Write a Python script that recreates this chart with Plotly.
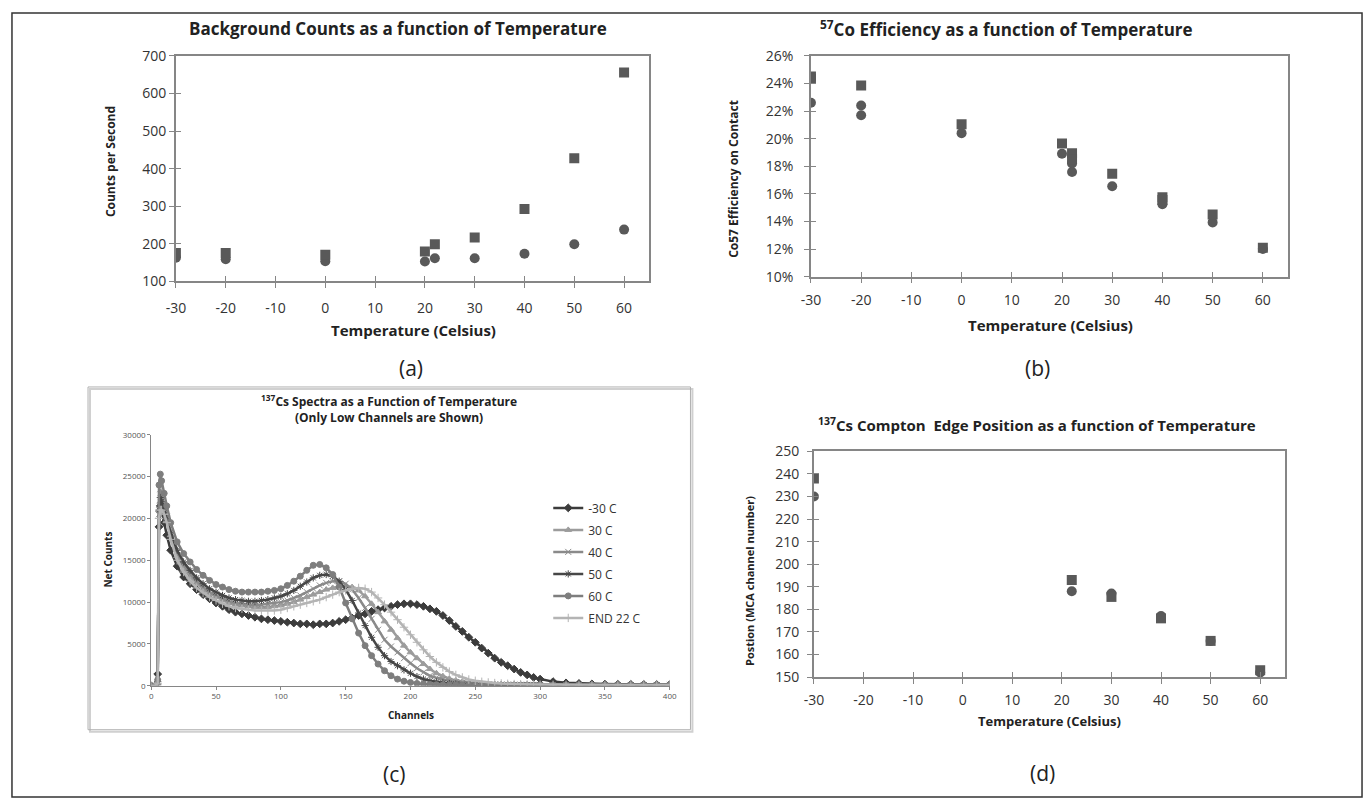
import plotly.graph_objects as go

W, H = 1371, 811
def px(x):
    return x / W
def py(y):
    return 1 - y / H

FONT = "Open Sans"
MK = "#595959"

# ---------------- Panel (a): Background counts ----------------
temp_a_sq = [-30, -20, 0, 20, 22, 30, 40, 50, 60]
cps_sq = [176, 176, 171, 180, 199, 217, 293, 428, 656]
temp_a_ci = [-30, -20, 0, 20, 22, 30, 40, 50, 60]
cps_ci = [163, 159, 154, 153, 162, 162, 174, 199, 238]

# ---------------- Panel (b): Co57 efficiency ----------------
temp_b_sq = [-30, -30, -20, 0, 20, 22, 22, 30, 40, 40, 50, 60]
eff_sq = [0.2450, 0.2435, 0.2385, 0.2105, 0.1965, 0.1895, 0.1850, 0.1745, 0.1575, 0.1555, 0.1450, 0.1210]
temp_b_ci = [-30, -20, -20, 0, 20, 22, 22, 30, 40, 50, 60]
eff_ci = [0.2260, 0.2240, 0.2170, 0.2040, 0.1890, 0.1820, 0.1758, 0.1655, 0.1525, 0.1393, 0.1200]

# ---------------- Panel (c): Cs137 spectra ----------------
channels = [0, 3, 5, 6, 7, 8, 10, 12, 15,
            20, 25, 30, 35, 40, 45, 50, 55, 60, 65, 70, 75, 80, 85, 90, 95, 100,
            105, 110, 115, 120, 125, 130, 135, 140, 145, 150, 155, 160, 165, 170, 175,
            180, 185, 190, 195, 200, 205, 210, 215, 220, 225, 230, 235, 240, 245, 250,
            255, 260, 265, 270, 275, 280, 285, 290, 295, 300,
            310, 320, 330, 340, 350, 360, 370, 380, 390, 400]

counts_m30 = [0, 0, 1400, 19000, 21500, 21000, 19500, 18000, 16200,
              14300, 13000, 12200, 11500, 10900, 10400, 9900, 9500, 9100, 8800, 8600, 8400, 8200, 8000, 7900, 7800, 7700,
              7600, 7500, 7400, 7400, 7300, 7400, 7400, 7500, 7700, 7900, 8100, 8400, 8600, 8900, 9100,
              9300, 9500, 9700, 9800, 9800, 9700, 9500, 9200, 8900, 8400, 7800, 7100, 6500, 5800, 5200,
              4500, 3900, 3300, 2800, 2400, 2000, 1600, 1300, 1000, 800,
              500, 350, 280, 230, 200, 180, 170, 160, 150, 150]
counts_30 = [0, 0, 300, 21000, 22000, 21800, 21000, 19800, 18000,
             15500, 14000, 13000, 12200, 11500, 11000, 10600, 10200, 9900, 9700, 9600, 9500, 9400, 9400, 9400, 9500, 9600,
             9800, 10000, 10300, 10600, 10900, 11200, 11500, 11700, 11900, 11900, 11800, 11400, 10700, 9800, 8800,
             7700, 6700, 5700, 4800, 4000, 3300, 2600, 2000, 1500, 1150, 850, 650, 500, 400, 320,
             260, 220, 190, 170, 150, 140, 130, 120, 110, 100,
             100, 90, 90, 80, 80, 80, 80, 80, 80, 80]
counts_40 = [0, 0, 400, 20500, 23500, 23000, 21500, 20200, 18500,
             16000, 14500, 13400, 12500, 11800, 11200, 10800, 10400, 10100, 9900, 9800, 9700, 9700, 9700, 9800, 9900, 10000,
             10200, 10500, 10800, 11200, 11600, 12000, 12300, 12500, 12500, 12200, 11500, 10500, 9300, 8000, 6700,
             5500, 4700, 4000, 3300, 2700, 2100, 1600, 1200, 950, 750, 580, 450, 360, 300, 250,
             220, 190, 170, 150, 140, 130, 120, 110, 100, 100,
             90, 90, 80, 80, 80, 80, 80, 80, 80, 80]
counts_50 = [0, 0, 500, 21000, 22500, 22000, 21000, 20000, 18300,
             16200, 14800, 13800, 12900, 12200, 11600, 11200, 10800, 10500, 10300, 10200, 10100, 10100, 10200, 10300, 10500, 10700,
             11000, 11400, 11900, 12400, 12900, 13200, 13300, 13100, 12500, 11500, 10200, 8700, 7200, 5800, 4600,
             3600, 2900, 2400, 1900, 1500, 1100, 800, 600, 450, 350, 280, 230, 200, 170, 150,
             140, 130, 120, 110, 100, 100, 90, 90, 90, 80,
             80, 80, 80, 80, 80, 80, 80, 80, 80, 80]
counts_60 = [0, 0, 700, 24000, 25300, 24500, 23000, 21500, 19500,
             17200, 15800, 14800, 13900, 13200, 12600, 12100, 11800, 11500, 11300, 11200, 11200, 11200, 11200, 11300, 11400, 11600,
             12000, 12500, 13100, 13800, 14400, 14500, 14100, 13300, 11800, 9900, 8000, 6300, 4800, 3600, 2600,
             1800, 1200, 800, 550, 400, 280, 200, 150, 120, 100, 90, 80, 80, 80, 80,
             80, 80, 80, 80, 80, 80, 80, 80, 80, 80,
             80, 80, 80, 80, 80, 80, 80, 80, 80, 80]
counts_end22 = [0, 0, 300, 20000, 21000, 21000, 20500, 19500, 17500,
                15000, 13600, 12500, 11700, 11100, 10600, 10200, 9800, 9500, 9300, 9200, 9100, 9000, 9000, 9000, 9000, 9100,
                9300, 9500, 9700, 9900, 10100, 10300, 10600, 10900, 11200, 11400, 11600, 11700, 11600, 11200, 10500,
                9700, 8800, 7900, 7000, 6100, 5200, 4300, 3500, 2800, 2200, 1700, 1300, 1000, 750, 600,
                480, 400, 330, 280, 240, 210, 190, 170, 150, 140,
                120, 110, 100, 100, 90, 90, 90, 90, 90, 90]

spectra = [
    ("-30 C", counts_m30, "#3c3c3c", "diamond"),
    ("30 C", counts_30, "#9c9c9c", "triangle-up"),
    ("40 C", counts_40, "#8a8a8a", "x-thin-open"),
    ("50 C", counts_50, "#474747", "asterisk-open"),
    ("60 C", counts_60, "#7e7e7e", "circle"),
    ("END 22 C", counts_end22, "#b4b4b4", "cross-thin-open"),
]

# ---------------- Panel (d): Compton edge position ----------------
temp_d_sq = [-30, 22, 30, 40, 50, 60]
pos_sq = [238, 193, 185.5, 176, 166, 153]
temp_d_ci = [-30, 22, 30, 40, 50, 60]
pos_ci = [230, 188, 187, 177, 166, 152]

temp_ticks = [-30, -20, -10, 0, 10, 20, 30, 40, 50, 60]
temp_labels = [str(t) for t in temp_ticks]
cps_ticks = [100, 200, 300, 400, 500, 600, 700]
eff_ticks = [0.10, 0.12, 0.14, 0.16, 0.18, 0.20, 0.22, 0.24, 0.26]
pos_ticks = [150, 160, 170, 180, 190, 200, 210, 220, 230, 240, 250]
chan_ticks = [0, 50, 100, 150, 200, 250, 300, 350, 400]
net_ticks = [0, 5000, 10000, 15000, 20000, 25000, 30000]

fig = go.Figure()

def sq_ci(xs, ys, xc, yc, xa, ya):
    fig.add_trace(go.Scatter(x=xc, y=yc, mode="markers", xaxis=xa, yaxis=ya, showlegend=False,
                             marker=dict(symbol="circle", size=10, color=MK)))
    fig.add_trace(go.Scatter(x=xs, y=ys, mode="markers", xaxis=xa, yaxis=ya, showlegend=False,
                             marker=dict(symbol="square", size=10, color=MK)))

sq_ci(temp_a_sq, cps_sq, temp_a_ci, cps_ci, "x", "y")
sq_ci(temp_b_sq, eff_sq, temp_b_ci, eff_ci, "x2", "y2")
sq_ci(temp_d_sq, pos_sq, temp_d_ci, pos_ci, "x4", "y4")

for i, (name, vals, col, sym) in enumerate(spectra):
    fig.add_trace(go.Scatter(x=channels, y=vals, mode="lines+markers", name=name,
                             xaxis="x3", yaxis="y3", legendgroup=name,
                             line=dict(color=col, width=2.5),
                             marker=dict(symbol=sym, size=6, color=col,
                                         line=dict(color=col, width=1))))

# empty helper traces so the overlay tick axes (cross ticks) get drawn
for xa, ya in [("x5", "y"), ("x", "y5"), ("x6", "y2"), ("x2", "y6"), ("x7", "y4"), ("x4", "y7")]:
    fig.add_trace(go.Scatter(x=[], y=[], xaxis=xa, yaxis=ya, showlegend=False, hoverinfo="skip"))

AX = "#868686"
frame = dict(showline=True, linecolor=AX, linewidth=1.5, mirror=True, showgrid=False,
             zeroline=False, ticks="outside", ticklen=5, tickcolor=AX, tickwidth=1,
             tickfont=dict(family=FONT, size=14, color="#333333"))
inner = dict(showline=False, showgrid=False, zeroline=False, ticks="inside", ticklen=5,
             tickcolor=AX, tickwidth=1, showticklabels=False)

fig.update_layout(
    width=W, height=H, margin=dict(l=0, r=0, t=0, b=0),
    paper_bgcolor="white", plot_bgcolor="white",
    xaxis=dict(frame, domain=[px(168), px(647)], range=[-30, 65], tickvals=temp_ticks,
               ticktext=temp_labels, anchor="y", ticklabelstandoff=8),
    yaxis=dict(frame, domain=[py(278), py(47)], range=[100, 700], tickvals=cps_ticks, anchor="x"),
    xaxis5=dict(inner, overlaying="x", anchor="y", side="bottom", range=[-30, 65], tickvals=temp_ticks),
    yaxis5=dict(inner, overlaying="y", anchor="x", side="left", range=[100, 700], tickvals=cps_ticks),

    xaxis2=dict(frame, domain=[px(811), px(1294)], range=[-30, 65], tickvals=temp_ticks,
                ticktext=temp_labels, anchor="y2", ticklabelstandoff=5),
    yaxis2=dict(frame, domain=[py(273), py(47)], range=[0.10, 0.26], tickvals=eff_ticks,
                tickformat=".0%", anchor="x2", ticklabelstandoff=8),
    xaxis6=dict(inner, overlaying="x2", anchor="y2", side="bottom", range=[-30, 65], tickvals=temp_ticks),
    yaxis6=dict(inner, overlaying="y2", anchor="x2", side="left", range=[0.10, 0.26], tickvals=eff_ticks),

    xaxis4=dict(frame, domain=[px(814), px(1291)], range=[-30, 65], tickvals=temp_ticks,
                ticktext=temp_labels, anchor="y4", ticklabelstandoff=4),
    yaxis4=dict(frame, domain=[py(683), py(452)], range=[150, 250], tickvals=pos_ticks, anchor="x4",
                ticklabelstandoff=5),
    xaxis7=dict(inner, overlaying="x4", anchor="y4", side="bottom", range=[-30, 65], tickvals=temp_ticks),
    yaxis7=dict(inner, overlaying="y4", anchor="x4", side="left", range=[150, 250], tickvals=pos_ticks),

    xaxis3=dict(domain=[px(143), px(668)], range=[0, 400], tickvals=chan_ticks, anchor="y3",
                showline=True, linecolor=AX, linewidth=1, showgrid=False, zeroline=False,
                ticks="outside", ticklen=3, tickcolor=AX,
                tickfont=dict(family=FONT, size=8, color="#555555")),
    yaxis3=dict(domain=[py(692), py(435)], range=[0, 30000], tickvals=net_ticks, tickformat="d",
                anchor="x3", showline=True, linecolor=AX, linewidth=1, showgrid=False, zeroline=False,
                ticks="outside", ticklen=3, tickcolor=AX,
                tickfont=dict(family=FONT, size=8, color="#555555")),
    legend=dict(x=px(545), y=py(495), xanchor="left", yanchor="top",
                font=dict(family=FONT, size=12, color="#333333"),
                bgcolor="rgba(0,0,0,0)", tracegroupgap=3, itemwidth=30),
    showlegend=True,
)

shapes = [
    dict(type="rect", xref="paper", yref="paper", x0=px(2), x1=px(1369), y0=py(806), y1=py(3),
         line=dict(color="#333333", width=1.5)),
    dict(type="rect", xref="paper", yref="paper", x0=px(81), x1=px(691), y0=py(739), y1=py(388),
         line=dict(color="#d0d0d0", width=2)),
    dict(type="rect", xref="paper", yref="paper", x0=px(79), x1=px(689), y0=py(737), y1=py(386),
         line=dict(color="#b0b0b0", width=1)),
]
fig.update_layout(shapes=shapes)

def ann(text, x, y, size, bold=False, angle=0, color="#222222"):
    if bold:
        text = "<b>" + text + "</b>"
    fig.add_annotation(text=text, x=px(x), y=py(y), xref="paper", yref="paper",
                       showarrow=False, xanchor="center", yanchor="middle", textangle=angle,
                       font=dict(family=FONT, size=size, color=color))

# titles
ann("Background Counts as a function of Temperature", 393, 19, 17, True)
ann("<sup>57</sup>Co Efficiency as a function of Temperature", 1009, 19, 17, True)
ann("<sup>137</sup>Cs Spectra as a Function of Temperature<br>(Only Low Channels are Shown)", 384, 409, 12, True)
ann("<sup>137</sup>Cs Compton  Edge Position as a function of Temperature", 1040, 424, 15, True)
# axis titles
ann("Counts per Second", 102, 155, 12, True, -90)
ann("Temperature (Celsius)", 409, 328, 15, True)
ann("Co57 Efficiency on Contact", 733, 173, 12, True, -90)
ann("Temperature (Celsius)", 1054, 323, 15, True)
ann("Net Counts", 99, 563, 10, True, -90)
ann("Channels", 406, 722, 10, True)
ann("Postion (MCA channel number)", 749, 585, 11, True, -90)
ann("Temperature (Celsius)", 1053, 728, 13, True)
# panel labels
ann("(a)", 406, 367, 21)
ann("(b)", 1040, 367, 21)
ann("(c)", 389, 782, 21)
ann("(d)", 1045, 781, 21)

fig.write_html("out.html")
